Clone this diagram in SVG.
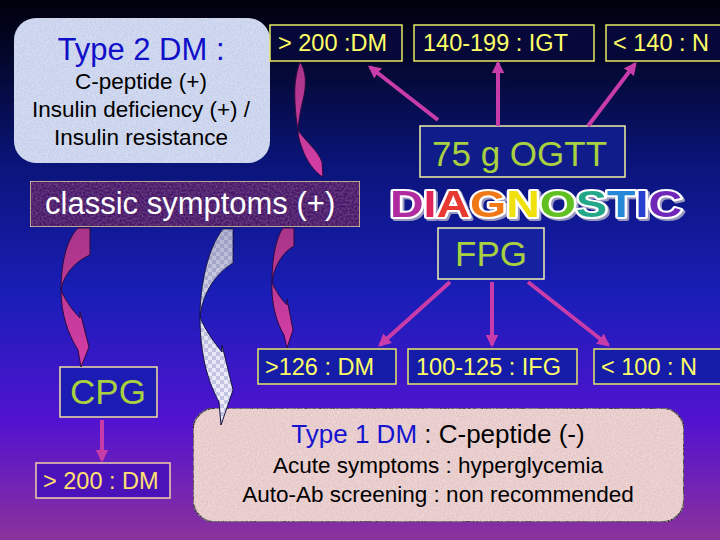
<svg xmlns="http://www.w3.org/2000/svg" width="720" height="540" viewBox="0 0 720 540">
<defs>
<linearGradient id="bg" x1="0" y1="0" x2="0" y2="1">
<stop offset="0" stop-color="#00000c"/>
<stop offset="0.12" stop-color="#040830"/>
<stop offset="0.3" stop-color="#0a1478"/>
<stop offset="0.55" stop-color="#1a1eb8"/>
<stop offset="0.78" stop-color="#5212d0"/>
<stop offset="1" stop-color="#8c329c"/>
</linearGradient>
<linearGradient id="pinkArrow" x1="0" y1="0" x2="0" y2="1">
<stop offset="0" stop-color="#a83488"/>
<stop offset="1" stop-color="#d63ea6"/>
</linearGradient>
<linearGradient id="whiteShade" x1="0" y1="0" x2="0" y2="1">
<stop offset="0" stop-color="#6a6a9a" stop-opacity="0.45"/>
<stop offset="0.5" stop-color="#6a6a9a" stop-opacity="0.1"/>
<stop offset="1" stop-color="#ffffff" stop-opacity="0"/>
</linearGradient>
<pattern id="checker" width="8" height="8" patternUnits="userSpaceOnUse">
<rect width="8" height="8" fill="#ececfa"/>
<rect width="4" height="4" fill="#c4c4e4"/>
<rect x="4" y="4" width="4" height="4" fill="#c4c4e4"/>
</pattern>
<marker id="ah" viewBox="0 0 10 10" refX="8" refY="5" markerWidth="3.2" markerHeight="3.2" orient="auto">
<path d="M0,0 L10,5 L0,10 Z" fill="#c83caa"/>
</marker>
<filter id="noise" x="0" y="0" width="100%" height="100%">
<feTurbulence type="fractalNoise" baseFrequency="0.6" numOctaves="2" seed="3" result="n"/>
<feColorMatrix in="n" type="matrix" values="0 0 0 0 1  0 0 0 0 1  0 0 0 0 1  0.6 0 0 0 -0.18" result="w"/>
<feComposite in="w" in2="SourceGraphic" operator="in" result="wi"/>
<feMerge><feMergeNode in="SourceGraphic"/><feMergeNode in="wi"/></feMerge>
</filter>
<filter id="noiseDark" x="0" y="0" width="100%" height="100%">
<feTurbulence type="fractalNoise" baseFrequency="0.5" numOctaves="2" seed="7" result="n"/>
<feColorMatrix in="n" type="matrix" values="0 0 0 0 0.55  0 0 0 0 0.3  0 0 0 0 0.65  0.35 0 0 0 -0.12" result="w"/>
<feComposite in="w" in2="SourceGraphic" operator="in" result="wi"/>
<feMerge><feMergeNode in="SourceGraphic"/><feMergeNode in="wi"/></feMerge>
</filter>
<filter id="shadow" x="-5%" y="-20%" width="110%" height="150%">
<feOffset in="SourceAlpha" dx="2" dy="2" result="o"/>
<feFlood flood-color="#9898c0"/>
<feComposite in2="o" operator="in" result="s"/>
<feMerge><feMergeNode in="s"/><feMergeNode in="SourceGraphic"/></feMerge>
</filter>
</defs>
<style>
.val{font-family:"Liberation Sans",Arial,sans-serif;font-size:23.5px;fill:#ffff66}
.big{font-family:"Liberation Sans",Arial,sans-serif;font-size:35px;fill:#a8d040}
.box{fill:#06083a;stroke:#e8e866;stroke-width:1.5}
.box2{fill:#1422a0;stroke:#f0f0b0;stroke-width:1.5}
.conn{stroke:#c83caa;stroke-width:4;fill:none;marker-end:url(#ah)}
.curve{fill:url(#pinkArrow);stroke:#2a0a40;stroke-width:1}
.dark{font-family:"Liberation Sans",Arial,sans-serif;fill:#000}
</style>
<rect width="720" height="540" fill="url(#bg)"/>

<g id="type2">
<rect x="14" y="18" width="256" height="145" rx="22" fill="#c6d0ec" filter="url(#noise)"/>
<text x="141" y="60" text-anchor="middle" font-family="Liberation Sans, Arial, sans-serif" font-size="31" fill="#1010c8">Type 2 DM :</text>
<text x="141" y="89" text-anchor="middle" class="dark" font-size="22.5">C-peptide (+)</text>
<text x="141" y="117" text-anchor="middle" class="dark" font-size="22.5">Insulin deficiency (+) /</text>
<text x="141" y="145" text-anchor="middle" class="dark" font-size="22.5">Insulin resistance</text>
</g>

<g id="ogtt_dm">
<rect class="box" x="270" y="25" width="132" height="36"/>
<text class="val" x="278" y="51">&gt; 200 :DM</text>
</g>
<g id="ogtt_igt">
<rect class="box" x="414" y="25" width="180" height="36"/>
<text class="val" x="423" y="51">140-199 : IGT</text>
</g>
<g id="ogtt_n">
<rect class="box" x="606" y="25" width="120" height="36"/>
<text class="val" x="613" y="51">&lt; 140 : N</text>
</g>

<g id="ogtt">
<rect x="420" y="126" width="205" height="51" fill="#101c8a" stroke="#f0f0a0" stroke-width="1.5"/>
<text class="big" x="432" y="166">75 g OGTT</text>
</g>

<g id="classic">
<rect x="30" y="181" width="330" height="46" fill="#46126a" stroke="#e8d890" stroke-width="1.5" filter="url(#noiseDark)"/>
<text x="45" y="214" font-family="Liberation Sans, Arial, sans-serif" font-size="31" fill="#ffffff">classic symptoms (+)</text>
</g>

<g id="diagnostic" filter="url(#shadow)">
<text x="390" y="217" font-family="Liberation Sans, Arial, sans-serif" font-weight="bold" font-size="36" textLength="292" lengthAdjust="spacingAndGlyphs" stroke="#ffffff" stroke-width="4" stroke-linejoin="round" paint-order="stroke"><tspan fill="#b02ca0">D</tspan><tspan fill="#e02858">I</tspan><tspan fill="#e83830">A</tspan><tspan fill="#f07818">G</tspan><tspan fill="#f0e010">N</tspan><tspan fill="#60c020">O</tspan><tspan fill="#20a888">S</tspan><tspan fill="#2888d8">T</tspan><tspan fill="#2840d0">I</tspan><tspan fill="#7028b8">C</tspan></text>
</g>

<g id="fpg">
<rect class="box2" x="438" y="228" width="106" height="51"/>
<text class="big" x="491" y="266" text-anchor="middle">FPG</text>
</g>

<g id="fpg_dm">
<rect class="box" x="258" y="349" width="138" height="35" style="fill:#141ca8"/>
<text class="val" x="265" y="375">&gt;126 : DM</text>
</g>
<g id="fpg_ifg">
<rect class="box" x="408" y="349" width="169" height="35" style="fill:#141ca8"/>
<text class="val" x="416" y="375">100-125 : IFG</text>
</g>
<g id="fpg_n">
<rect class="box" x="594" y="349" width="130" height="35" style="fill:#141ca8"/>
<text class="val" x="601" y="375">&lt; 100 : N</text>
</g>

<g id="cpg">
<rect x="60" y="367" width="97" height="50" fill="#1c1cb4" stroke="#f0e0a0" stroke-width="1.5"/>
<text class="big" x="108" y="404" text-anchor="middle">CPG</text>
</g>

<g id="cpg_dm">
<rect x="36" y="463" width="134" height="35" fill="#4a12b8" stroke="#f0d0a8" stroke-width="1.5"/>
<text class="val" x="43" y="489" style="fill:#ffe070">&gt; 200 : DM</text>
</g>

<g id="type1">
<rect x="193" y="408" width="491" height="114" rx="22" fill="#e6c6c6" stroke="#201020" stroke-width="1.5" filter="url(#noise)"/>
<text x="438" y="443" text-anchor="middle" font-family="Liberation Sans, Arial, sans-serif" font-size="26"><tspan fill="#1414d0">Type 1 DM</tspan><tspan fill="#000"> : C-peptide (-)</tspan></text>
<text x="438" y="473" text-anchor="middle" class="dark" font-size="22.5">Acute symptoms : hyperglycemia</text>
<text x="438" y="502" text-anchor="middle" class="dark" font-size="22.5">Auto-Ab screening : non recommended</text>
</g>

<g id="connectors">
<line class="conn" x1="438" y1="120" x2="370" y2="67"/>
<line class="conn" x1="498" y1="126" x2="498" y2="63"/>
<line class="conn" x1="588" y1="126" x2="635" y2="64"/>
<line class="conn" x1="450" y1="282" x2="380" y2="345"/>
<line class="conn" x1="492" y1="282" x2="492" y2="345"/>
<line class="conn" x1="528" y1="282" x2="608" y2="345"/>
<line class="conn" x1="102" y1="420" x2="102" y2="460"/>
<path class="curve" d="M300,62 C306,70 307,85 303,100 C301,108 299,118 298,130 C304,140 318,150 322,162 L323,177 C314,172 306,160 302,148 C299,140 298,135 298,130 C296,120 294,100 295,85 C296,75 298,67 300,62 Z"/>
<path class="curve" d="M78,228 L90,228 L90,255 C78,260 64,272 61,290 C66,302 74,312 80,318 L80,312 L89,347 L81,367 L78,350 C68,334 61,314 61,290 C61,265 66,240 78,228 Z"/>
<path class="curve" d="M283,228 L294,228 L294,246 C283,252 274,266 272,282 C276,292 282,300 287,305 L287,299 L293,330 L287,348 L284,335 C276,322 271,302 272,282 C272,258 276,238 283,228 Z"/>
<path d="M223,229 L233,229 L233,263 C218,272 203,290 200,317 C205,330 214,342 222,352 L222,345 L233,390 L221,425 L219,402 C210,385 200,360 200,317 C200,285 208,248 223,229 Z" fill="url(#checker)" stroke="#101040" stroke-width="1"/>
<path d="M223,229 L233,229 L233,263 C218,272 203,290 200,317 C205,330 214,342 222,352 L222,345 L233,390 L221,425 L219,402 C210,385 200,360 200,317 C200,285 208,248 223,229 Z" fill="url(#whiteShade)"/>
</g>
</svg>
